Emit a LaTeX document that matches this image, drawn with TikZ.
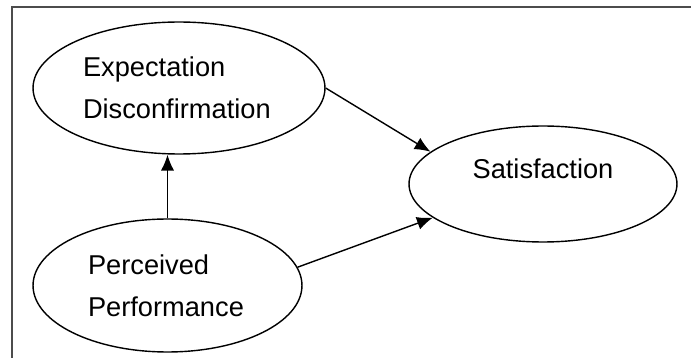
\documentclass[tikz,border=0pt]{standalone}
\usepackage{fontspec}
\setmainfont{Liberation Sans}
\usetikzlibrary{shapes,arrows,arrows.meta,positioning}

\begin{document}
\begin{tikzpicture}[x=0.02cm, y=-0.02cm,
  blob/.style={draw, ellipse, line width=0.8pt, inner sep=0pt, font=\fontsize{15.5}{24}\selectfont},
  link/.style={->, line width=0.8pt, >={Latex[length=9pt,width=7.5pt]}}]
\useasboundingbox (0,0) rectangle (691,358);
\draw[line width=0.8pt, black!70] (12,370) -- (12,7) -- (700,7);
%============
\node[blob, align=left, text width=3.84cm, minimum width=5.84cm, minimum height=2.64cm] (E) at (179,88) {Expectation\\Disconfirmation};
\node[blob, align=left, text width=3.18cm, minimum width=5.38cm, minimum height=2.66cm] (P) at (167.5,285.5) {Perceived\\Performance};
\node[blob, align=center, minimum width=5.36cm, minimum height=2.32cm] (S) at (543,184) {Satisfaction\\[-6pt]\mbox{}};
%==========
\draw[link] (P.north) -- (P.north |- E.south);
\draw[link] (E.east) -- (S.164);
\draw[link] (P.8) -- (S.197);
\end{tikzpicture}
\end{document}
